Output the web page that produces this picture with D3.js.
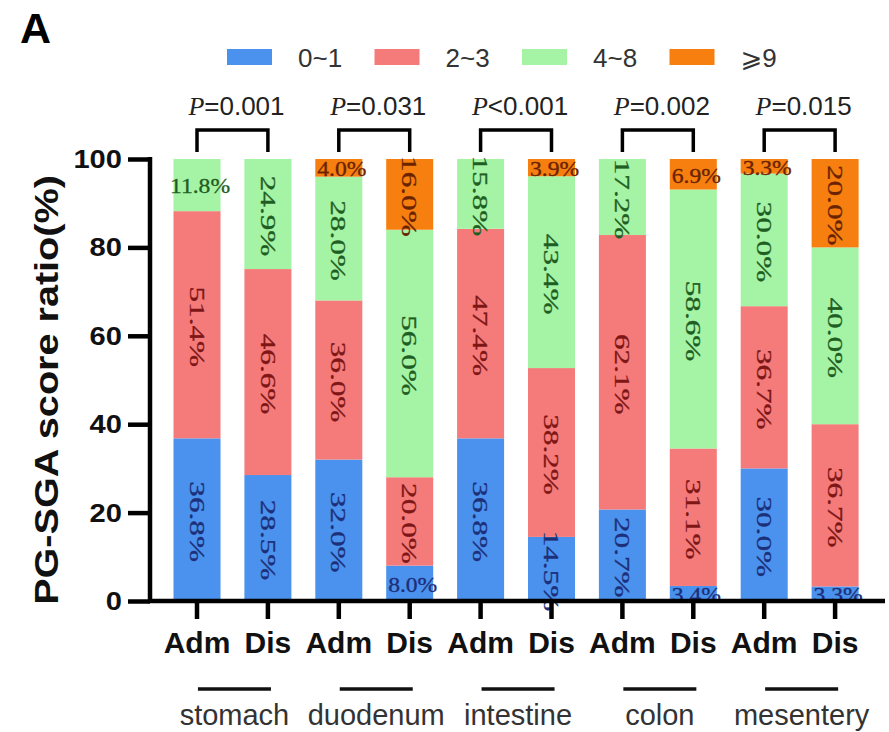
<!DOCTYPE html>
<html>
<head>
<meta charset="utf-8">
<script src="https://cdn.jsdelivr.net/npm/d3@7"></script>
<style>
  html, body { margin: 0; padding: 0; background: #fff; }
  svg { display: block; }
</style>
</head>
<body>
<svg id="chart" width="889" height="732"></svg>
<script>
// Sites and time points
const sites = ["stomach", "duodenum", "intestine", "colon", "mesentery"];
const stages = ["Adm", "Dis"];
const pValues = ["=0.001", "=0.031", "<0.001", "=0.002", "=0.015"];

// PG-SGA score categories
const categories = ["0~1", "2~3", "4~8", "⩾9"];
const colors = ["#4a92ee", "#f57b7b", "#a5f3a5", "#f77f0f"];
const labelColors = ["#1d2f78", "#7e1616", "#1f5e22", "#6a2300"];

// Percentages per bar (order: stomach Adm, stomach Dis, duodenum Adm, ...)
const score0to1 = [36.8, 28.5, 32.0, 8.0, 36.8, 14.5, 20.7, 3.4, 30.0, 3.3];
const score2to3 = [51.4, 46.6, 36.0, 20.0, 47.4, 38.2, 62.1, 31.1, 36.7, 36.7];
const score4to8 = [11.8, 24.9, 28.0, 56.0, 15.8, 43.4, 17.2, 58.6, 30.0, 40.0];
const score9up  = [0.0, 0.0, 4.0, 16.0, 0.0, 3.9, 0.0, 6.9, 3.3, 20.0];

const yTicks = [0, 20, 40, 60, 80, 100];

const bars = [];
sites.forEach((s, i) => stages.forEach((st, j) => {
  const k = i * 2 + j;
  bars.push({ key: s + "-" + st, site: s, stage: st,
    [categories[0]]: score0to1[k], [categories[1]]: score2to3[k],
    [categories[2]]: score4to8[k], [categories[3]]: score9up[k] });
}));

const svg = d3.select("#chart");
const SANS = "'Liberation Sans', Arial, sans-serif";
const SERIF = "'Liberation Serif', 'Times New Roman', serif";

const x = d3.scaleBand().domain(bars.map(d => d.key))
  .range([173.5, 858.6]).paddingInner(0.337).paddingOuter(0);
const y = d3.scaleLinear().domain([0, 100]).range([601, 159]);
const color = d3.scaleOrdinal().domain(categories).range(colors);
const labelColor = d3.scaleOrdinal().domain(categories).range(labelColors);

const series = d3.stack().keys(categories)(bars);

// Stacked segments
const layer = svg.append("g").selectAll("g").data(series).join("g")
  .attr("fill", d => color(d.key));
layer.selectAll("rect").data(d => d.map(v => ({ v, key: d.key })))
  .join("rect")
  .attr("x", d => x(d.v.data.key))
  .attr("width", x.bandwidth())
  .attr("y", d => y(d.v[1]))
  .attr("height", d => y(d.v[0]) - y(d.v[1]));

// Segment value labels: short segments get horizontal text, others run vertically
const labels = [];
series.forEach(s => s.forEach(v => {
  const val = v.data[s.key];
  if (val > 0) labels.push({ key: s.key, val, bar: v.data.key, lo: v[0], hi: v[1] });
}));
svg.append("g").selectAll("text").data(labels).join("text")
  .attr("font-family", SERIF)
  .attr("font-size", d => d.val <= 12 ? 20 : 22)
  .attr("fill", d => labelColor(d.key))
  .attr("stroke", d => labelColor(d.key)).attr("stroke-width", 0.3)
  .attr("text-anchor", "middle")
  .attr("dominant-baseline", "central")
  .attr("transform", d => {
    const cx = x(d.bar) + x.bandwidth() / 2;
    const cy = (y(d.lo) + y(d.hi)) / 2;
    return d.val <= 12
      ? `translate(${cx + 3},${cy + 2}) scale(1.18,1)`
      : `translate(${cx},${cy + 2}) rotate(90) scale(1.42,1)`;
  })
  .text(d => d.val.toFixed(1) + "%");

// Y axis
const yAxis = svg.append("g").attr("transform", "translate(150,0)")
  .call(d3.axisLeft(y).tickValues(yTicks).tickSize(22).tickSizeOuter(0).tickPadding(0));
yAxis.select(".domain").attr("stroke", "#000").attr("stroke-width", 4.5)
  .attr("d", `M0,${y(100) - 2}V${y(0) + 2}`);
yAxis.selectAll(".tick line").attr("stroke", "#000").attr("stroke-width", 4.5);
yAxis.selectAll(".tick text").remove();
svg.append("g").selectAll("text").data(yTicks).join("text")
  .attr("transform", d => `translate(122,${y(d)}) scale(1.12,1)`)
  .attr("text-anchor", "end").attr("dominant-baseline", "central")
  .attr("font-family", SANS).attr("font-weight", "bold").attr("font-size", 26)
  .attr("fill", "#111").text(d => d);

// X axis
const xAxis = svg.append("g").attr("transform", `translate(0,${y(0)})`)
  .call(d3.axisBottom(x).tickSize(18).tickSizeOuter(0).tickFormat(""));
xAxis.select(".domain").attr("stroke", "#000").attr("stroke-width", 4.5)
  .attr("d", "M148,0H885");
xAxis.selectAll(".tick line").attr("stroke", "#000").attr("stroke-width", 4.5);

// Stage labels
svg.append("g").selectAll("text").data(bars).join("text")
  .attr("x", d => x(d.key) + x.bandwidth() / 2)
  .attr("y", 653)
  .attr("text-anchor", "middle")
  .attr("font-family", SANS).attr("font-weight", "bold").attr("font-size", 30)
  .attr("fill", "#111").text(d => d.stage);

// Site groups: underline + name
const groupCenter = s => (x(s + "-Adm") + x(s + "-Dis")) / 2 + x.bandwidth() / 2;
const groups = svg.append("g").selectAll("g").data(sites).join("g");
groups.append("line")
  .attr("x1", d => groupCenter(d) - 36.5 + 2).attr("x2", d => groupCenter(d) + 36.5 + 2)
  .attr("y1", 689).attr("y2", 689)
  .attr("stroke", "#111").attr("stroke-width", 3.5);
groups.append("text")
  .attr("x", d => groupCenter(d) + 2).attr("y", 725)
  .attr("text-anchor", "middle")
  .attr("font-family", SANS).attr("font-size", 29)
  .attr("fill", "#333").text(d => d);

// Significance brackets with P values
const brackets = svg.append("g").selectAll("g").data(sites.map((s, i) => ({ s, p: pValues[i] })))
  .join("g");
brackets.append("path")
  .attr("d", d => {
    const a = x(d.s + "-Adm") + x.bandwidth() / 2;
    const b = x(d.s + "-Dis") + x.bandwidth() / 2;
    return `M${a},152V130H${b}V152`;
  })
  .attr("fill", "none").attr("stroke", "#000").attr("stroke-width", 3.5);
const pText = brackets.append("text")
  .attr("x", d => groupCenter(d.s) + 4).attr("y", 115)
  .attr("text-anchor", "middle").attr("font-size", 26).attr("fill", "#222");
pText.append("tspan").attr("font-family", SERIF).attr("font-style", "italic").text("P");
pText.append("tspan").attr("font-family", SANS).text(d => d.p);

// Legend
const legend = svg.append("g").selectAll("g").data(categories).join("g")
  .attr("transform", (d, i) => `translate(${227 + i * 147.5},49)`);
legend.append("rect").attr("width", 45).attr("height", 16).attr("fill", d => color(d));
legend.append("text").attr("x", 71).attr("y", 18)
  .attr("font-family", "'Liberation Sans', 'DejaVu Sans', sans-serif")
  .attr("font-size", 26).attr("fill", "#333")
  .text(d => d);

// Y axis title
svg.append("text")
  .attr("transform", `translate(58,390) rotate(-90) scale(1.2,1)`)
  .attr("text-anchor", "middle")
  .attr("font-family", SANS).attr("font-weight", "bold").attr("font-size", 33)
  .attr("fill", "#111").text("PG-SGA score ratio(%)");

// Panel letter
svg.append("text").attr("x", 20).attr("y", 43)
  .attr("font-family", SANS).attr("font-weight", "bold").attr("font-size", 43)
  .attr("fill", "#000").text("A");
</script>
</body>
</html>
